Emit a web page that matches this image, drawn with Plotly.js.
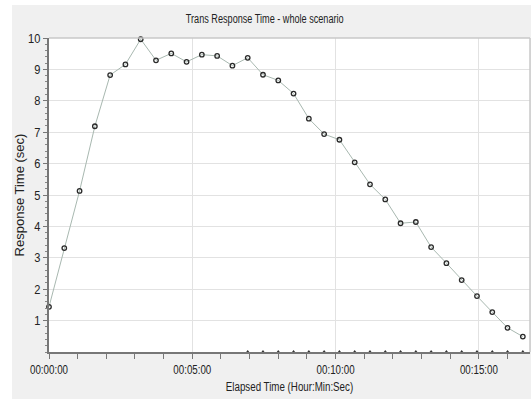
<!DOCTYPE html>
<html>
<head>
<meta charset="utf-8">
<script src="https://cdn.plot.ly/plotly-3.0.1.min.js"></script>
<style>
html,body{margin:0;padding:0;background:#ffffff;width:531px;height:399px;overflow:hidden;}
#chart{position:absolute;left:12px;top:5px;width:519px;height:394px;}
</style>
</head>
<body>
<div id="chart"></div>
<script>
// Elapsed time in seconds
const elapsedSec = [0,32,64,96,128,160,192,224,256,288,320,352,384,416,448,480,512,544,576,608,640,672,704,736,768,800,832,864,896,928,960,992];
// Transaction response time (sec)
const responseTime = [1.44,3.31,5.13,7.19,8.82,9.16,9.96,9.29,9.51,9.24,9.47,9.43,9.12,9.37,8.83,8.65,8.23,7.43,6.94,6.76,6.04,5.34,4.86,4.10,4.14,3.34,2.83,2.29,1.78,1.27,0.77,0.49];
// Second transaction series (flat at zero)
const elapsedSec2 = [416,448,480,512,544,576,608,640,672,704,736,768,800,832,864,896,928,960,992];
const responseTime2 = [0,0,0,0,0,0,0,0,0,0,0,0,0,0,0,0,0,0,0];
// Axis ticks
const xTickVals = [0,300,600,900];
const xTickText = ["00:00:00","00:05:00","00:10:00","00:15:00"];
const yTickVals = [1,2,3,4,5,6,7,8,9,10];

const FONT = '"Liberation Sans",Arial,sans-serif';

const traces = [
  {
    x: elapsedSec, y: responseTime, type: 'scatter', mode: 'lines+markers',
    line: {color: '#a8b8b0', width: 1},
    marker: {symbol: 'circle-open', size: 4.5, color: '#2a2a2a', line: {width: 1.3, color: '#2a2a2a'}},
    hoverinfo: 'none', cliponaxis: false
  },
  {
    x: elapsedSec2, y: responseTime2, type: 'scatter', mode: 'markers',
    marker: {symbol: 'triangle-up', size: 4, color: '#333333'},
    hoverinfo: 'none', cliponaxis: false
  }
];

const layout = {
  width: 519, height: 394,
  paper_bgcolor: '#f0f0f0', plot_bgcolor: '#ffffff',
  margin: {l: 37, r: 1, t: 33, b: 47},
  showlegend: false,
  font: {family: FONT, size: 12, color: '#222222'},
  title: {text: 'Trans Response Time - whole scenario', x: 0.487, xanchor: 'center', y: 0.965, yanchor: 'middle',
          font: {family: FONT, size: 12, color: '#222222'}},
  xaxis: {
    range: [0, 1007], tickvals: xTickVals, ticktext: xTickText,
    showgrid: true, gridcolor: '#e2e2e2', gridwidth: 1, zeroline: false,
    showline: true, linecolor: '#777777', linewidth: 2,
    ticks: 'outside', ticklen: 5, tickcolor: '#777777', tickwidth: 1,
    minor: {dtick: 60, tick0: 0, ticks: 'outside', ticklen: 5, tickcolor: '#777777', showgrid: false},
    tickfont: {family: FONT, size: 12.5, color: '#222222'},
    title: {text: 'Elapsed Time (Hour:Min:Sec)', standoff: 6, font: {family: FONT, size: 12.5, color: '#222222'}},
    fixedrange: true
  },
  yaxis: {
    range: [0, 10], tickvals: yTickVals,
    showgrid: true, gridcolor: '#e2e2e2', gridwidth: 1, zeroline: false,
    showline: true, linecolor: '#777777', linewidth: 2,
    ticks: 'outside', ticklen: 4, tickcolor: '#777777', tickwidth: 1,
    minor: {dtick: 0.2, tick0: 0, ticks: 'outside', ticklen: 2, tickcolor: '#888888', showgrid: false},
    tickfont: {family: FONT, size: 13, color: '#222222'},
    title: {text: 'Response Time (sec)', standoff: 8, font: {family: FONT, size: 13, color: '#222222'}},
    fixedrange: true
  },
  shapes: [
    {type: 'line', xref: 'paper', yref: 'paper', x0: 0, x1: 1, y0: 1, y1: 1, line: {color: '#c8c8c8', width: 1.5}},
    {type: 'line', xref: 'paper', yref: 'paper', x0: 1, x1: 1, y0: 0, y1: 1, line: {color: '#c8c8c8', width: 1.5}}
  ]
};

function condense(selector, factor) {
  document.querySelectorAll(selector).forEach(function (t) {
    try {
      const w = t.getComputedTextLength();
      if (w > 0) {
        t.setAttribute('lengthAdjust', 'spacingAndGlyphs');
        t.setAttribute('textLength', (w * factor).toFixed(2));
      }
    } catch (e) {}
  });
}

Plotly.newPlot('chart', traces, layout, {displayModeBar: false, staticPlot: true}).then(function () {
  condense('#chart .gtitle', 0.76);
  condense('#chart .xtick text', 0.78);
  condense('#chart .xtitle', 0.78);
  condense('#chart .ytick text', 0.85);
});
</script>
</body>
</html>
